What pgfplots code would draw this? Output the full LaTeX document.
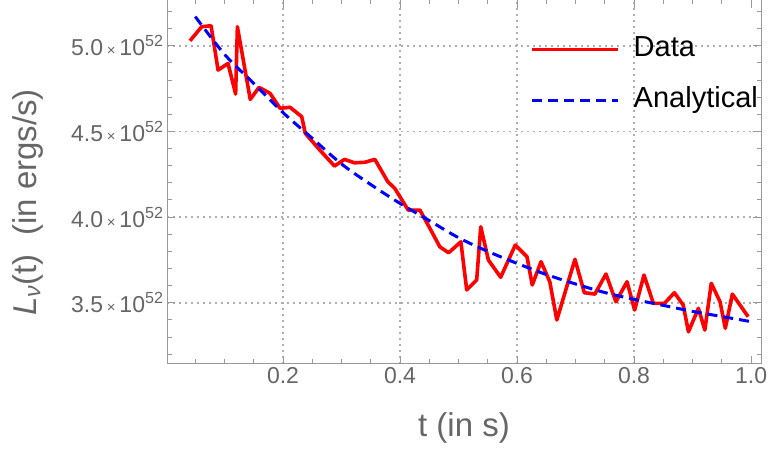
\documentclass[border=0pt]{standalone}
\usepackage{fontspec}
\setmainfont{Liberation Sans}
\usepackage{pgfplots}
\pgfplotsset{compat=1.18}
\definecolor{txtgray}{gray}{0.4}
\definecolor{framegray}{gray}{0.6}
\definecolor{gridgray}{gray}{0.68}
\newcommand{\yl}[1]{#1\,{\fontsize{15}{15}\selectfont×}\,10\textsuperscript{52}}
\begin{document}
\begin{tikzpicture}
\begin{axis}[
  at={(167pt,93pt)}, anchor=south west,
  scale only axis, width=594pt, height=364pt,
  xmin=0.0017, xmax=1.017, ymin=3.143, ymax=5.267,
  axis line style={framegray, line width=1pt},
  xtick={0.2,0.4,0.6,0.8},
  xticklabels={0.2,0.4,0.6,0.8},
  extra x ticks={1.0}, extra x tick labels={1.0},
  extra x tick style={grid=none},
  ytick={3.5,4.0,4.5,5.0},
  yticklabels={\yl{3.5},\yl{4.0},\yl{4.5},\yl{5.0}},
  minor xtick={0.05,0.1,0.15,0.25,0.3,0.35,0.45,0.5,0.55,0.65,0.7,0.75,0.85,0.9,0.95},
  minor ytick={3.2,3.3,3.4,3.6,3.7,3.8,3.9,4.1,4.2,4.3,4.4,4.6,4.7,4.8,4.9,5.1,5.2},
  tick align=inside, major tick length=8pt, minor tick length=4.5pt,
  every tick/.style={framegray, line width=1pt},
  xmajorgrids, ymajorgrids,
  grid style={gridgray, line width=1.6pt, dash pattern=on 1.6pt off 4.4pt},
  ticklabel style={txtgray, font=\fontsize{23}{27}\selectfont},
  /pgf/number format/assume math mode=true,
  xlabel={t (in s)},
  ylabel={\textit{L}\textsubscript{\textit{ν}}(t)\ \ (in ergs/s)},
  every axis x label/.style={at={(axis description cs:0.5,-0.176)},anchor=center,txtgray,font=\fontsize{33}{38}\selectfont},
  every axis y label/.style={at={(axis description cs:-0.234,0.444)},rotate=90,anchor=center,txtgray,font=\fontsize{33}{38}\selectfont},
  legend style={at={(axis description cs:0.611,0.902)}, anchor=north west, draw=none, fill=none,
    font=\fontsize{29}{33}\selectfont, text=black, inner sep=0pt, row sep=24pt, column sep=14pt,
    nodes={inner sep=0pt, text height=21pt, text depth=6pt}},
  legend cell align=left,
  legend image code/.code={\draw[#1] (0pt,0pt) -- (86pt,0pt);},
]
\addplot[red, line width=3.6pt, line join=round] coordinates {
(0.041,5.029) (0.061,5.111) (0.077,5.117) (0.089,4.858) (0.106,4.897)
(0.119,4.718) (0.122,5.111) (0.144,4.687) (0.159,4.757) (0.178,4.722)
(0.195,4.635) (0.212,4.641) (0.232,4.586) (0.238,4.489) (0.263,4.391)
(0.288,4.298) (0.305,4.337) (0.322,4.317) (0.340,4.320) (0.357,4.337)
(0.379,4.207) (0.391,4.168) (0.414,4.041) (0.434,4.041) (0.451,3.935)
(0.468,3.827) (0.483,3.792) (0.504,3.856) (0.514,3.575) (0.531,3.633)
(0.538,3.944) (0.551,3.750) (0.572,3.649) (0.597,3.837) (0.617,3.769)
(0.626,3.604) (0.641,3.740) (0.656,3.623) (0.668,3.400) (0.699,3.754)
(0.715,3.559) (0.733,3.551) (0.752,3.668) (0.769,3.506) (0.788,3.623)
(0.801,3.458) (0.817,3.662) (0.833,3.497) (0.852,3.497) (0.869,3.559)
(0.884,3.487) (0.893,3.331) (0.910,3.468) (0.921,3.341) (0.932,3.614)
(0.947,3.506) (0.956,3.351) (0.968,3.551) (0.995,3.419)
};
\addlegendentry{Data}
\addplot[blue, line width=3pt, dash pattern=on 10pt off 6pt, smooth] coordinates {
(0.05,5.17) (0.10,4.95) (0.15,4.78) (0.20,4.61) (0.25,4.46) (0.30,4.31)
(0.35,4.19) (0.40,4.08) (0.45,3.98) (0.50,3.88) (0.55,3.80) (0.60,3.73)
(0.65,3.665) (0.70,3.61) (0.75,3.56) (0.80,3.52) (0.85,3.485) (0.90,3.45)
(0.95,3.42) (1.00,3.39)
};
\addlegendentry{Analytical}
\end{axis}
\pgfresetboundingbox
\path (0pt,0pt) rectangle (770pt,457pt);
\end{tikzpicture}
\end{document}
